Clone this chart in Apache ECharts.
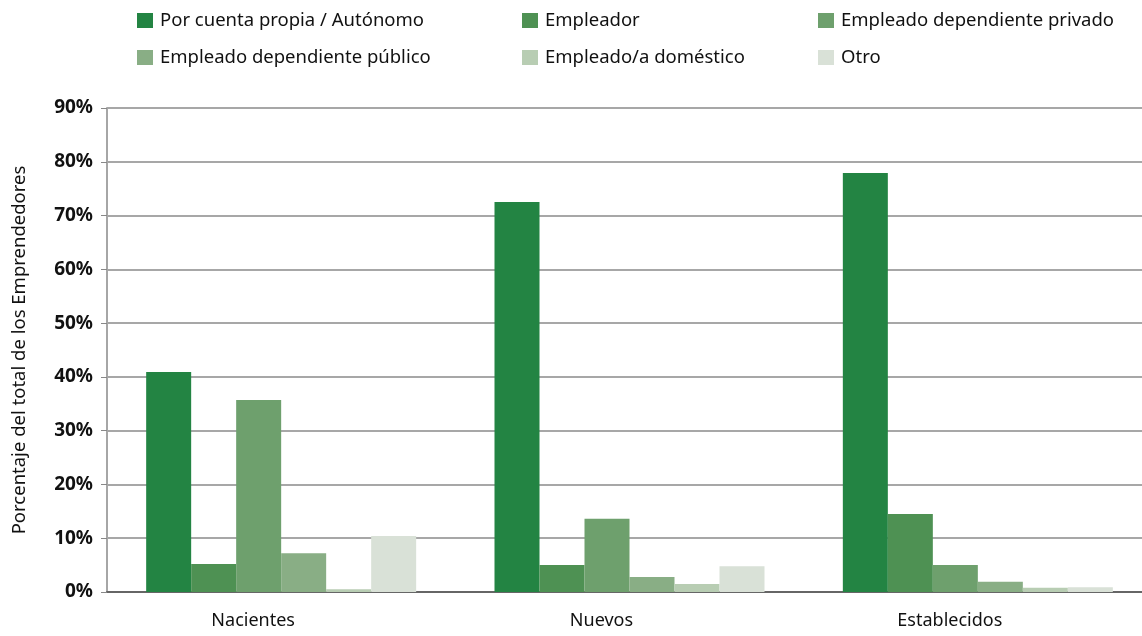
<!DOCTYPE html>
<html>
<head>
<meta charset="utf-8">
<script src="https://cdn.jsdelivr.net/npm/echarts@6/dist/echarts.min.js"></script>
<style>
html,body{margin:0;padding:0;background:#fff;}
#chart{width:1142px;height:636px;}
</style>
</head>
<body>
<div id="chart"></div>
<script>
const categories = ['Nacientes', 'Nuevos', 'Establecidos'];
const seriesNames = ['Por cuenta propia / Autónomo', 'Empleador', 'Empleado dependiente privado', 'Empleado dependiente público', 'Empleado/a doméstico', 'Otro'];
const autonomo = [40.9, 72.5, 77.9];
const empleador = [5.2, 5.0, 14.5];
const privado = [35.7, 13.6, 5.0];
const publico = [7.2, 2.8, 1.9];
const domestico = [0.5, 1.5, 0.8];
const otro = [10.4, 4.8, 0.9];
const yTicks = [0, 10, 20, 30, 40, 50, 60, 70, 80, 90];

const values = [autonomo, empleador, privado, publico, domestico, otro];
const colors = ['#238443', '#4e9153', '#6ea06d', '#89ae85', '#b8cdb3', '#d9e1d7'];
const FONT = 'Noto Sans';

const legendPos = [
  {left: 137, top: 11}, {left: 522, top: 11}, {left: 818, top: 11},
  {left: 137, top: 48}, {left: 522, top: 48}, {left: 818, top: 48}
];

const chart = echarts.init(document.getElementById('chart'));
chart.setOption({
  animation: false,
  backgroundColor: '#fff',
  textStyle: {fontFamily: FONT},
  legend: seriesNames.map((n, i) => ({
    data: [n],
    left: legendPos[i].left,
    top: legendPos[i].top,
    padding: 0,
    icon: 'rect',
    itemWidth: 16,
    itemHeight: 15,
    itemGap: 7,
    textStyle: {fontFamily: FONT, fontSize: 18.5, color: '#111', padding: [0, 0, 0, 2]}
  })),
  grid: {left: 107, right: -10, top: 108, bottom: 44, containLabel: false, outerBoundsMode: 'none'},
  xAxis: {
    type: 'category',
    data: categories,
    axisLine: {show: true, lineStyle: {color: '#666', width: 2}},
    axisTick: {show: false},
    axisLabel: {fontFamily: FONT, fontSize: 18, color: '#111', margin: 20, padding: [0, 56, 0, 0]}
  },
  yAxis: {
    type: 'value',
    min: yTicks[0],
    max: yTicks[yTicks.length - 1],
    interval: 10,
    name: 'Porcentaje del total de los Emprendedores',
    nameLocation: 'middle',
    nameGap: 78,
    nameTextStyle: {fontFamily: FONT, fontSize: 18.5, color: '#111'},
    axisLine: {show: true, lineStyle: {color: '#a6a6a6', width: 2}},
    axisTick: {show: true, length: 6, lineStyle: {color: '#888'}},
    axisLabel: {fontFamily: FONT, fontSize: 19, fontWeight: 'bold', color: '#111', margin: 14, formatter: v => v + '%'},
    splitLine: {show: true, lineStyle: {color: '#8a8a8a', width: 1.5}}
  },
  series: seriesNames.map((n, i) => ({
    name: n,
    type: 'bar',
    data: values[i],
    barWidth: 45,
    barGap: '0%',
    itemStyle: {color: colors[i]}
  }))
});
</script>
</body>
</html>
